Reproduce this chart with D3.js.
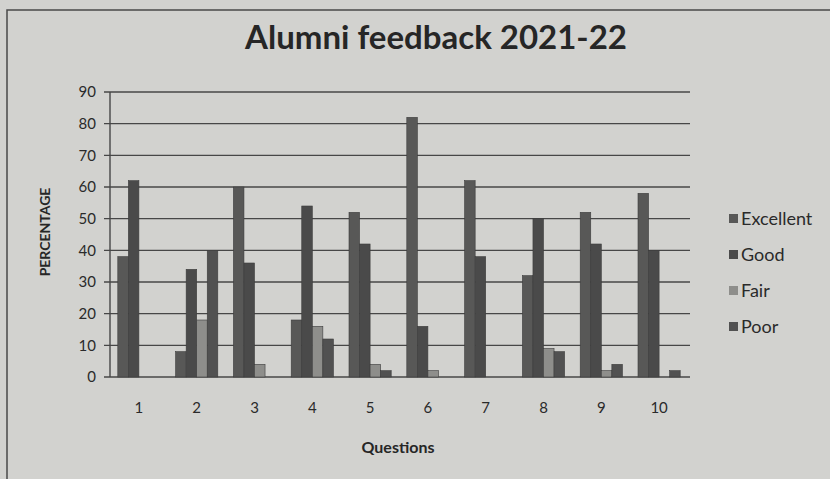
<!DOCTYPE html>
<html>
<head>
<meta charset="utf-8">
<script src="https://cdn.jsdelivr.net/npm/d3@7"></script>
<style>
  body { margin: 0; background: #d2d2cf; }
  svg { display: block; }
</style>
</head>
<body>
<div id="chart"></div>
<script>
// data
const questions = ["1", "2", "3", "4", "5", "6", "7", "8", "9", "10"];
const series    = ["Excellent", "Good", "Fair", "Poor"];
const excellent = [38, 8, 60, 18, 52, 82, 62, 32, 52, 58];
const good      = [62, 34, 36, 54, 42, 16, 38, 50, 42, 40];
const fair      = [0, 18, 4, 16, 4, 2, 0, 9, 2, 0];
const poor      = [0, 40, 0, 12, 2, 0, 0, 8, 4, 2];
const yTicks    = [0, 10, 20, 30, 40, 50, 60, 70, 80, 90];

const colors = {Excellent: "#585857", Good: "#4a4a4a", Fair: "#8e8e8b", Poor: "#515151"};

const width = 830, height = 479;
const margin = {top: 92, right: 142, bottom: 102, left: 110};
const w = width - margin.left - margin.right;
const h = height - margin.top - margin.bottom;

const rows = questions.map((q, i) => ({
    q: q,
    values: [excellent[i], good[i], fair[i], poor[i]].map((v, j) => ({key: series[j], value: v}))
}));

const svg = d3.select("#chart").append("svg")
    .attr("width", width)
    .attr("height", height);

// outer frame of the printed chart
svg.append("rect")
    .attr("x", 7).attr("y", 10)
    .attr("width", 900).attr("height", 600)
    .attr("fill", "none")
    .attr("stroke", "#4a4a4a")
    .attr("stroke-width", 1.5);

const g = svg.append("g")
    .attr("transform", "translate(" + margin.left + "," + margin.top + ")");

////////////
/// Axes ///
////////////

const x0 = d3.scaleBand().domain(questions).range([0, w]);
const x1 = d3.scaleBand().domain(series)
    .range([x0.bandwidth() * 0.135, x0.bandwidth() * 0.865]);
const y = d3.scaleLinear().domain([0, 90]).range([h, 0]);

// gridlines
g.append("g")
    .selectAll("line")
    .data(yTicks)
    .enter().append("line")
    .attr("x1", -6).attr("x2", w + 2)
    .attr("y1", d => y(d)).attr("y2", d => y(d))
    .attr("stroke", "#474747")
    .attr("stroke-width", 1.4);

g.append("line")
    .attr("x1", 0).attr("x2", 0)
    .attr("y1", 0).attr("y2", h)
    .attr("stroke", "#474747")
    .attr("stroke-width", 1.4);

const yAxis = g.append("g")
    .call(d3.axisLeft(y).tickValues(yTicks).tickSize(0).tickPadding(14));
yAxis.select(".domain").remove();
yAxis.selectAll("text")
    .attr("fill", "#2a2a2a")
    .style("font-family", "Lato, 'Open Sans', sans-serif")
    .style("font-size", "15px");

const xAxis = g.append("g")
    .attr("transform", "translate(0," + h + ")")
    .call(d3.axisBottom(x0).tickSize(0).tickPadding(25));
xAxis.select(".domain").remove();
xAxis.selectAll("text")
    .attr("fill", "#2a2a2a")
    .style("font-family", "Lato, 'Open Sans', sans-serif")
    .style("font-size", "15px");

////////////
/// Bars ///
////////////

g.append("g")
    .selectAll("g")
    .data(rows)
    .enter().append("g")
    .attr("transform", d => "translate(" + x0(d.q) + ",0)")
    .selectAll("rect")
    .data(d => d.values)
    .enter().append("rect")
    .attr("x", d => x1(d.key))
    .attr("y", d => y(d.value))
    .attr("width", x1.bandwidth())
    .attr("height", d => h - y(d.value))
    .attr("fill", d => colors[d.key])
    .attr("stroke", "#3c3c3c")
    .attr("stroke-width", 0.6);

//////////////
/// Labels ///
//////////////

svg.append("text")
    .attr("x", 436).attr("y", 49)
    .attr("text-anchor", "middle")
    .attr("fill", "#262626")
    .style("font-family", "Lato, 'Open Sans', sans-serif")
    .style("font-weight", "bold")
    .style("font-size", "33px")
    .text("Alumni feedback 2021-22");

svg.append("text")
    .attr("x", 398).attr("y", 453)
    .attr("text-anchor", "middle")
    .attr("fill", "#262626")
    .style("font-family", "Lato, 'Open Sans', sans-serif")
    .style("font-weight", "bold")
    .style("font-size", "16px")
    .text("Questions");

svg.append("text")
    .attr("transform", "translate(50,232) rotate(-90)")
    .attr("text-anchor", "middle")
    .attr("fill", "#262626")
    .style("font-family", "Lato, 'Open Sans', sans-serif")
    .style("font-weight", "bold")
    .style("font-size", "14px")
    .text("PERCENTAGE");

//////////////
/// Legend ///
//////////////

const legend = svg.append("g")
    .selectAll("g")
    .data(series)
    .enter().append("g")
    .attr("transform", (d, i) => "translate(729," + (219 + i * 36) + ")");

legend.append("rect")
    .attr("x", 0).attr("y", -5)
    .attr("width", 9).attr("height", 9)
    .attr("fill", d => colors[d]);

legend.append("text")
    .attr("x", 12).attr("y", 6)
    .attr("fill", "#2a2a2a")
    .style("font-family", "Lato, 'Open Sans', sans-serif")
    .style("font-size", "18px")
    .text(d => d);
</script>
</body>
</html>
